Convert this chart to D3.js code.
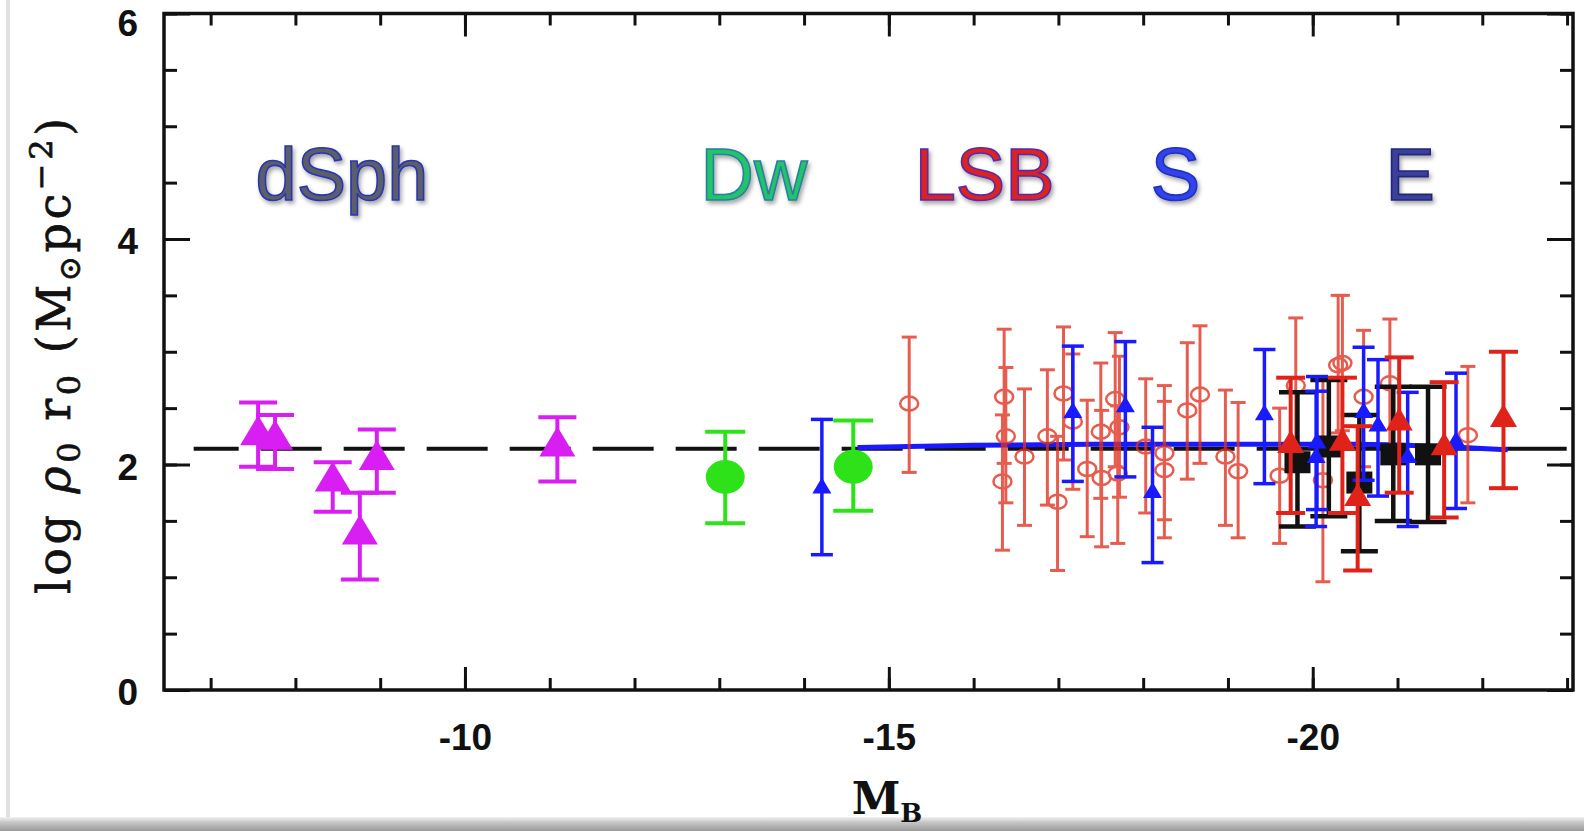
<!DOCTYPE html>
<html>
<head>
<meta charset="utf-8">
<script src="https://cdn.jsdelivr.net/npm/d3@7"></script>
<style>
  body { margin: 0; background: #fff; }
  svg { display: block; }
</style>
</head>
<body>
<div id="chart"></div>
<script>
// each row: [M_B, log rho0 r0, lower, upper]
const dsph = [
  [-7.56, 2.26, 1.98, 2.55],
  [-7.76, 2.22, 1.96, 2.44],
  [-8.44, 1.85, 1.58, 2.02],
  [-8.96, 2.04, 1.75, 2.31],
  [-8.76, 1.38, 0.98, 1.75],
  [-11.09, 2.16, 1.85, 2.42]
];
const dwarfs = [
  [-13.07, 1.89, 1.48, 2.29],
  [-14.58, 1.98, 1.59, 2.39]
];
const spirals = [
  [-14.21, 1.79, 1.20, 2.40],
  [-17.17, 2.46, 1.85, 3.05],
  [-17.79, 2.51, 1.89, 3.09],
  [-18.11, 1.75, 1.13, 2.33],
  [-19.43, 2.44, 1.83, 3.02],
  [-20.05, 2.19, 1.60, 2.78],
  [-20.04, 2.06, 1.45, 2.65],
  [-20.60, 2.46, 1.86, 3.04],
  [-20.77, 2.34, 1.72, 2.93],
  [-21.12, 2.06, 1.45, 2.64],
  [-21.69, 2.20, 1.61, 2.81]
];
const lsbOpen = [
  [-15.24, 2.54, 1.93, 3.13],
  [-16.36, 2.60, 2.01, 3.20],
  [-16.38, 2.25, 1.66, 2.86],
  [-16.34, 1.85, 1.24, 2.44],
  [-16.60, 2.07, 1.46, 2.67],
  [-16.87, 2.25, 1.64, 2.84],
  [-17.06, 2.63, 2.04, 3.22],
  [-16.99, 1.67, 1.06, 2.25],
  [-17.17, 2.38, 1.78, 2.98],
  [-17.34, 1.96, 1.36, 2.57],
  [-17.50, 2.29, 1.70, 2.90],
  [-17.51, 1.88, 1.27, 2.48],
  [-17.67, 2.58, 1.98, 3.17],
  [-17.72, 2.33, 1.71, 2.96],
  [-17.70, 1.92, 1.30, 2.52],
  [-18.03, 2.16, 1.57, 2.76],
  [-18.25, 2.10, 1.51, 2.70],
  [-18.25, 1.95, 1.35, 2.56],
  [-18.52, 2.48, 1.87, 3.08],
  [-18.67, 2.62, 2.01, 3.23],
  [-18.97, 2.07, 1.46, 2.66],
  [-19.12, 1.94, 1.35, 2.55],
  [-19.61, 1.90, 1.30, 2.50],
  [-19.80, 2.70, 2.10, 3.30],
  [-20.12, 1.86, 0.96, 2.75],
  [-20.30, 2.88, 2.28, 3.50],
  [-20.35, 2.90, 2.30, 3.50],
  [-20.60, 2.60, 1.98, 3.19],
  [-20.91, 2.72, 2.14, 3.29],
  [-21.83, 2.26, 1.66, 2.87]
];
const redTri = [
  [-19.74, 2.17, 1.57, 2.77],
  [-20.35, 2.19, 1.57, 2.77],
  [-20.53, 1.70, 1.06, 2.34],
  [-21.02, 2.37, 1.75, 2.95],
  [-21.55, 2.15, 1.53, 2.73],
  [-22.25, 2.40, 1.79, 3.00]
];
const ellipticals = [
  [-19.82, 2.02, 1.45, 2.64],
  [-20.19, 2.16, 1.54, 2.75],
  [-20.55, 1.84, 1.23, 2.44],
  [-20.95, 2.09, 1.50, 2.69],
  [-21.36, 2.09, 1.49, 2.69]
];
// mean value (dashed) and fit (blue)
const meanLine = [[-6.8, 2.14], [-23.07, 2.14]];
const fitLine = [[-14.63, 2.15], [-16, 2.17], [-17.5, 2.18], [-19, 2.18], [-20.5, 2.18], [-21.5, 2.16], [-22.3, 2.13]];
// class labels
const classNames = ['dSph', 'Dw', 'LSB', 'S', 'E'];
const classMB = [-8.55, -13.41, -16.13, -18.38, -21.15];
const classY = 4.35;
const xMajor = [-10, -15, -20];
const yMajor = [0, 2, 4, 6];

const W = 1584, H = 831;
const svg = d3.select('#chart').append('svg').attr('width', W).attr('height', H);
const defs = svg.append('defs');

let x = d3.scaleLinear().domain([-6.45, -23.07]).range([164, 1573]);
let y = d3.scaleLinear().domain([0, 6]).range([690, 13.5]);

// slide frame bits
let g1 = defs.append('linearGradient').attr('id', 'bar').attr('x1', 0).attr('y1', 0).attr('x2', 0).attr('y2', 1);
g1.append('stop').attr('offset', '0%').attr('stop-color', '#f2f2f2');
g1.append('stop').attr('offset', '40%').attr('stop-color', '#c4c4c4');
g1.append('stop').attr('offset', '100%').attr('stop-color', '#9a9a9a');
svg.append('rect').attr('x', 0).attr('y', 817).attr('width', W).attr('height', 14).attr('fill', 'url(#bar)');
svg.append('rect').attr('x', 6).attr('y', 0).attr('width', 4).attr('height', 817).attr('fill', '#e0e0e0');

// shadow for class labels
let f = defs.append('filter').attr('id', 'shadow').attr('x', '-20%').attr('y', '-20%').attr('width', '140%').attr('height', '140%');
f.append('feDropShadow').attr('dx', 2).attr('dy', 3).attr('stdDeviation', 2).attr('flood-color', '#000').attr('flood-opacity', 0.35);

// axes
const fnt = 'Liberation Sans, Arial, Helvetica, sans-serif';
let minorX = d3.range(-7, -23.5, -1);
let minorY = d3.range(0, 6.01, 0.5);

function styleAxis(g) {
  g.select('.domain').remove();
  g.selectAll('line').attr('stroke', '#111').attr('stroke-width', 3);
  g.selectAll('text').attr('fill', '#111').style('font-family', fnt).style('font-size', '37px').style('font-weight', 'bold');
}

svg.append('g').attr('transform', 'translate(0,690)')
  .call(d3.axisBottom(x).tickValues(minorX).tickSize(-12).tickFormat(''))
  .call(styleAxis);
svg.append('g').attr('transform', 'translate(0,690)')
  .call(d3.axisBottom(x).tickValues(xMajor).tickSize(-23).tickPadding(34).tickFormat(d => String(d)))
  .call(styleAxis);
svg.append('g').attr('transform', 'translate(0,13.5)')
  .call(d3.axisTop(x).tickValues(minorX).tickSize(-12).tickFormat(''))
  .call(styleAxis);
svg.append('g').attr('transform', 'translate(0,13.5)')
  .call(d3.axisTop(x).tickValues(xMajor).tickSize(-23).tickFormat(''))
  .call(styleAxis);
svg.append('g').attr('transform', 'translate(164,0)')
  .call(d3.axisLeft(y).tickValues(minorY).tickSize(-13).tickFormat(''))
  .call(styleAxis);
svg.append('g').attr('transform', 'translate(164,0)')
  .call(d3.axisLeft(y).tickValues(yMajor).tickSize(-26).tickPadding(26).tickFormat(d => String(d)))
  .call(styleAxis)
  .selectAll('text').attr('dy', d => d === 6 ? '0.6em' : '0.4em');
svg.append('g').attr('transform', 'translate(1573,0)')
  .call(d3.axisRight(y).tickValues(minorY).tickSize(-13).tickFormat(''))
  .call(styleAxis);
svg.append('g').attr('transform', 'translate(1573,0)')
  .call(d3.axisRight(y).tickValues(yMajor).tickSize(-26).tickFormat(''))
  .call(styleAxis);

svg.append('rect').attr('x', 164).attr('y', 13.5).attr('width', 1573 - 164).attr('height', 690 - 13.5)
  .attr('fill', 'none').attr('stroke', '#111').attr('stroke-width', 3.5);

// axis titles
let yt = svg.append('text')
  .attr('transform', 'translate(70,356) rotate(-90)')
  .attr('text-anchor', 'middle')
  .attr('textLength', 476).attr('lengthAdjust', 'spacing')
  .style('font-family', 'DejaVu Serif, serif').style('font-size', '46px')
  .attr('fill', '#111').attr('stroke', '#111').attr('stroke-width', 0.7);
yt.append('tspan').text('log ');
yt.append('tspan').text('ρ').style('font-style', 'italic');
yt.append('tspan').text('0').attr('dy', 10).style('font-size', '32px');
yt.append('tspan').text(' r').attr('dy', -10);
yt.append('tspan').text('0').attr('dy', 10).style('font-size', '32px');
yt.append('tspan').text('  (M').attr('dy', -10);
yt.append('tspan').text('⊙').attr('dy', 10).style('font-size', '30px');
yt.append('tspan').text('pc').attr('dy', -10);
yt.append('tspan').text('−2').attr('dy', -18).style('font-size', '32px');
yt.append('tspan').text(')').attr('dy', 18);

let xt = svg.append('text').attr('x', 887).attr('y', 814).attr('text-anchor', 'middle')
  .style('font-family', 'DejaVu Serif, serif').style('font-weight', 'bold').style('font-size', '44px').attr('fill', '#111');
xt.append('tspan').text('M');
xt.append('tspan').text('B').attr('dy', 8).style('font-size', '26px');

// reference lines
let line = d3.line().x(d => x(d[0])).y(d => y(d[1]));
svg.append('path').datum(meanLine).attr('d', line)
  .attr('fill', 'none').attr('stroke', '#111').attr('stroke-width', 4)
  .attr('stroke-dasharray', '61,22').attr('stroke-dashoffset', 16);
svg.append('path').datum(fitLine).attr('d', d3.line().curve(d3.curveMonotoneX).x(d => x(d[0])).y(d => y(d[1])))
  .attr('fill', 'none').attr('stroke', '#1a1aff').attr('stroke-width', 5);

// error bars + markers
function errBars(data, color, lw, cap, opacity) {
  let g = svg.append('g').attr('stroke', color).attr('stroke-width', lw).attr('opacity', opacity);
  g.selectAll('.v').data(data).enter().append('line')
    .attr('x1', d => x(d[0])).attr('x2', d => x(d[0]))
    .attr('y1', d => y(d[2])).attr('y2', d => y(d[3]));
  g.selectAll('.lo').data(data).enter().append('line')
    .attr('x1', d => x(d[0]) - cap / 2).attr('x2', d => x(d[0]) + cap / 2)
    .attr('y1', d => y(d[2])).attr('y2', d => y(d[2]));
  g.selectAll('.hi').data(data).enter().append('line')
    .attr('x1', d => x(d[0]) - cap / 2).attr('x2', d => x(d[0]) + cap / 2)
    .attr('y1', d => y(d[3])).attr('y2', d => y(d[3]));
  return g;
}
function triPath(w, h) {
  return 'M0,' + (-h * 2 / 3) + 'L' + (w / 2) + ',' + (h / 3) + 'L' + (-w / 2) + ',' + (h / 3) + 'Z';
}
function triangles(data, color, w, h) {
  svg.append('g').selectAll('path').data(data).enter().append('path')
    .attr('d', triPath(w, h))
    .attr('transform', d => 'translate(' + x(d[0]) + ',' + y(d[1]) + ')')
    .attr('fill', color);
}

// LSB open circles
let lg = errBars(lsbOpen, '#e0301f', 3, 15, 0.78);
lg.selectAll('ellipse').data(lsbOpen).enter().append('ellipse')
  .attr('cx', d => x(d[0])).attr('cy', d => y(d[1]))
  .attr('rx', 9).attr('ry', 7).attr('fill', 'none').attr('stroke-width', 2.5);

// ellipticals (black squares)
errBars(ellipticals, '#111', 4.5, 37, 1);
svg.append('g').selectAll('rect').data(ellipticals).enter().append('rect')
  .attr('x', d => x(d[0]) - 13).attr('y', d => y(d[1]) - 11)
  .attr('width', 26).attr('height', 22).attr('fill', '#111');

// spirals (blue triangles)
errBars(spirals, '#1a1aff', 3.5, 22, 1);
triangles(spirals, '#1a1aff', 19, 16);

// red triangles
errBars(redTri, '#e0231a', 4, 29, 1);
triangles(redTri, '#e0231a', 27, 23);

// dSph
errBars(dsph, '#d81ef2', 4, 38, 1);
triangles(dsph, '#d81ef2', 36, 30);

// dwarfs
errBars(dwarfs, '#2ee21a', 4, 40, 1);
svg.append('g').selectAll('ellipse').data(dwarfs).enter().append('ellipse')
  .attr('cx', d => x(d[0])).attr('cy', d => y(d[1]))
  .attr('rx', 19.5).attr('ry', 17).attr('fill', '#2ee21a');

// class labels
const classFill = ['#5b5f69', '#20c46a', '#dd2424', '#3343ee', '#3b409a'];
const classStroke = ['#2a36b0', '#2a7fa0', '#5a2aa8', '#2030b8', '#23287a'];
svg.append('g').selectAll('text').data(classNames).enter().append('text')
  .attr('x', (d, i) => x(classMB[i])).attr('y', y(classY))
  .attr('text-anchor', 'middle')
  .style('font-family', fnt).style('font-size', '74px')
  .attr('fill', (d, i) => classFill[i])
  .attr('stroke', (d, i) => classStroke[i]).attr('stroke-width', 1.6)
  .attr('filter', 'url(#shadow)')
  .text(d => d);
</script>
</body>
</html>
